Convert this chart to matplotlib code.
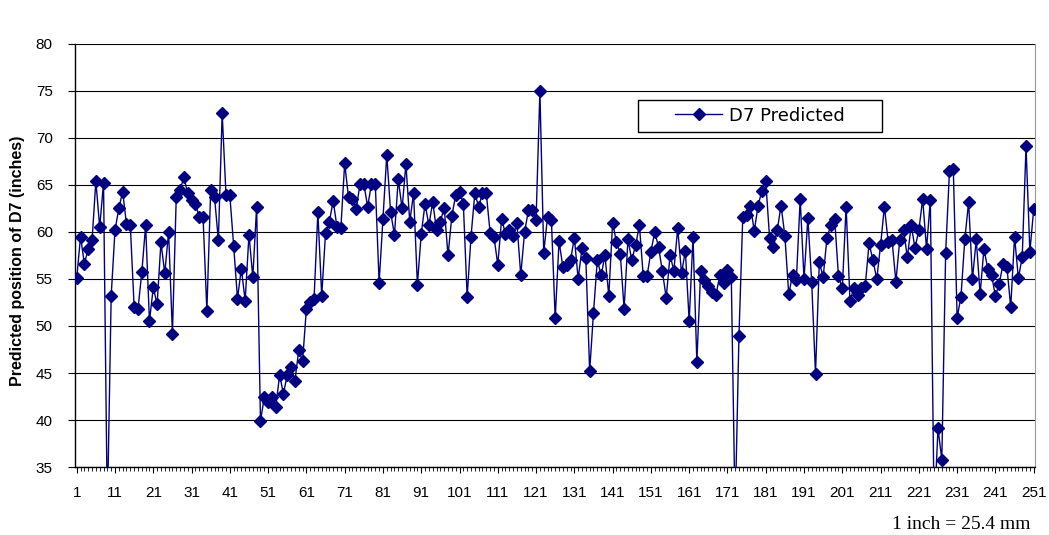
import matplotlib
matplotlib.use('Agg')
import matplotlib.pyplot as plt
from matplotlib.patches import Rectangle

# predicted D7 position, one value per reading (1..251); values below 35 fall off the chart
d7_predicted = [
    55.1, 59.5, 56.6, 58.2, 59.1, 65.4, 60.5, 65.2, 30.0, 53.2,
    60.2, 62.5, 64.3, 60.8, 60.7, 52.0, 51.8, 55.7, 60.7, 50.5,
    54.1, 52.3, 58.9, 55.6, 60.0, 49.2, 63.7, 64.5, 65.8, 64.1,
    63.4, 63.0, 61.6, 61.6, 51.6, 64.5, 63.7, 59.1, 72.6, 63.9,
    63.9, 58.5, 52.9, 56.1, 52.7, 59.7, 55.2, 62.7, 39.9, 42.4,
    41.9, 42.4, 41.4, 44.8, 42.8, 44.8, 45.6, 44.2, 47.4, 46.3,
    51.8, 52.6, 52.9, 62.1, 53.2, 59.9, 61.1, 63.3, 60.5, 60.4,
    67.3, 63.7, 63.5, 62.4, 65.1, 65.1, 62.7, 65.1, 65.1, 54.6,
    61.4, 68.2, 62.1, 59.7, 65.6, 62.5, 67.2, 61.1, 64.1, 54.4,
    59.8, 63.0, 60.7, 63.2, 60.2, 61.1, 62.6, 57.5, 61.7, 63.9,
    64.2, 63.0, 53.1, 59.5, 64.1, 62.7, 64.1, 64.1, 59.9, 59.5,
    56.5, 61.4, 59.8, 60.2, 59.6, 60.9, 55.4, 60.0, 62.3, 62.3,
    61.3, 75.0, 57.8, 61.6, 61.3, 50.8, 59.0, 56.3, 56.5, 57.0,
    59.4, 55.0, 58.3, 57.2, 45.2, 51.4, 57.0, 55.4, 57.5, 53.2,
    61.0, 58.9, 57.7, 51.8, 59.2, 57.0, 58.6, 60.7, 55.3, 55.3,
    57.9, 60.0, 58.4, 55.8, 53.0, 57.5, 55.9, 60.4, 55.6, 58.0,
    50.5, 59.5, 46.2, 55.8, 54.9, 54.3, 53.6, 53.3, 55.4, 54.6,
    56.0, 55.2, 30.0, 48.9, 61.6, 61.8, 62.8, 60.1, 62.8, 64.4,
    65.4, 59.4, 58.4, 60.2, 62.8, 59.6, 53.4, 55.4, 54.9, 63.5,
    55.0, 61.5, 54.7, 44.9, 56.8, 55.2, 59.4, 60.7, 61.4, 55.3,
    54.0, 62.7, 52.7, 54.0, 53.3, 54.0, 54.3, 58.8, 57.0, 55.0,
    58.6, 62.7, 58.9, 59.1, 54.7, 59.1, 60.2, 57.3, 60.7, 58.3,
    60.2, 63.5, 58.2, 63.4, 30.0, 39.1, 35.8, 57.8, 66.5, 66.7,
    50.9, 53.1, 59.2, 63.2, 55.0, 59.2, 53.4, 58.2, 56.1, 55.4,
    53.2, 54.5, 56.6, 56.3, 52.0, 59.5, 55.1, 57.3, 69.1, 57.9,
    62.4,
]
readings = list(range(1, len(d7_predicted) + 1))
x_labels = list(range(1, 252, 10))
y_ticks = list(range(35, 81, 5))

navy = '#000080'
plt.rcParams['font.family'] = ['Liberation Sans', 'DejaVu Sans']

fig = plt.figure(figsize=(10.49, 5.35), dpi=100)
ax = fig.add_axes([0.0715, 0.127, 0.915, 0.791])

ax.grid(axis='y', color='black', linewidth=0.8)
ax.set_axisbelow(True)
ax.plot(readings, d7_predicted, color=navy, linewidth=1.0,
        marker='D', markersize=6, markerfacecolor=navy, markeredgecolor=navy,
        label='D7 Predicted', zorder=3)

ax.set_ylim(35, 80)
ax.set_xlim(0.55, 251.3)
ax.set_yticks(y_ticks)
ax.set_xticks(x_labels)
ax.set_xticks(readings, minor=True)
ax.tick_params(axis='x', which='major', length=4, width=0.8, pad=10, labelsize=11)
ax.tick_params(axis='x', which='minor', length=3, width=0.6)
ax.tick_params(axis='y', length=5, width=0.8, pad=11, labelsize=11)

ax.spines['top'].set_visible(False)
ax.spines['right'].set_color('#999999')
ax.spines['left'].set_linewidth(1.0)
ax.spines['bottom'].set_linewidth(1.0)

fig.text(0.017, 0.512, 'Predicted position of D7 (inches)', rotation=90,
         ha='center', va='center', fontsize=11.5, fontweight='bold')

# legend box
ax.add_patch(Rectangle((0.5865, 0.792), 0.254, 0.0757, transform=ax.transAxes,
                       facecolor='white', edgecolor='black', linewidth=1.0,
                       zorder=4))
leg = ax.legend(loc='center', bbox_to_anchor=(0.7135, 0.830), frameon=False,
                prop={'family': 'DejaVu Sans', 'size': 13},
                handlelength=2.6, handletextpad=0.35, borderpad=0.2)
leg.set_zorder(5)

fig.text(0.982, 0.019, '1 inch = 25.4 mm', ha='right', va='center',
         fontsize=14, family='Liberation Serif')

fig.savefig('out.png', dpi=100, facecolor='white')
